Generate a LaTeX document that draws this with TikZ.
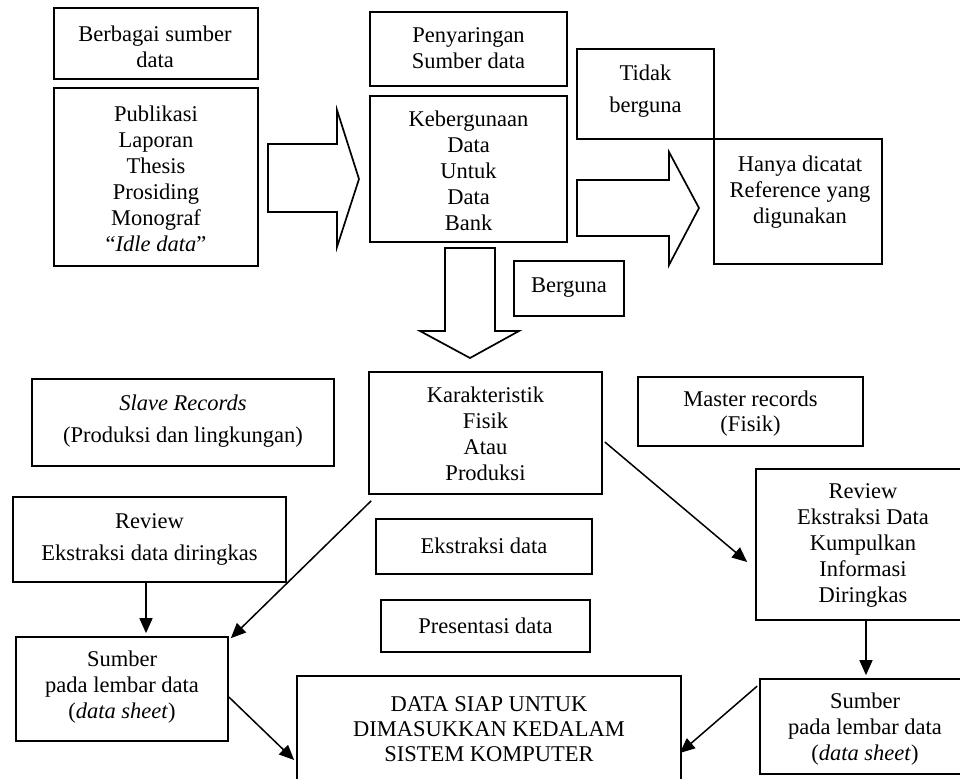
\documentclass[tikz,border=0pt]{standalone}
\usepackage{fontspec}
\setmainfont{Liberation Serif}
\usetikzlibrary{arrows.meta}
\begin{document}
\begin{tikzpicture}[x=0.5pt,y=-0.5pt,
  box/.style={draw,line width=0.85pt,inner sep=0pt,rectangle},
  txt/.style={inner sep=0pt,align=center,font=\fontsize{11.25pt}{13pt}\selectfont},
  txtw/.style={inner sep=0pt,align=center,font=\fontsize{11.25pt}{16pt}\selectfont},
  txtn/.style={inner sep=0pt,align=center,font=\fontsize{11.25pt}{12.5pt}\selectfont},
  blk/.style={draw,line width=0.85pt,line join=miter,fill=white},
  arr/.style={draw,line width=0.75pt,-{Triangle[length=7.5pt,width=6.5pt]}}]
\useasboundingbox (0,0) rectangle (960,778);
\clip (0,0) rectangle (960,778);
\fill[white] (0,0) rectangle (960,778);
% boxes
\node[box,minimum width=102pt,minimum height=35.5pt] (berbagai) at (156,43.5) {};
\node[box,minimum width=102pt,minimum height=89pt] (publikasi) at (156,177) {};
\node[box,minimum width=98.5pt,minimum height=37pt] (penyaring) at (468.5,49) {};
\node[box,minimum width=98.5pt,minimum height=73pt] (keberguna) at (468.5,169) {};
\node[box,minimum width=68.5pt,minimum height=45pt] (tidak) at (645.5,94) {};
\node[box,minimum width=84pt,minimum height=62.5pt] (hanya) at (798,201.5) {};
\node[box,minimum width=55pt,minimum height=27.5pt] (berguna) at (569,288.5) {};
\node[box,minimum width=151pt,minimum height=43.5pt] (slave) at (183,422.5) {};
\node[box,minimum width=116.5pt,minimum height=61pt] (karak) at (485.5,433) {};
\node[box,minimum width=112.5pt,minimum height=34.5pt] (master) at (750.5,411.5) {};
\node[box,minimum width=136.5pt,minimum height=42.5pt] (reviewL) at (149.5,539.5) {};
\node[box,minimum width=108pt,minimum height=27.5pt] (ekstraksi) at (484,546.5) {};
\node[box,minimum width=104.5pt,minimum height=26pt] (presentasi) at (485.5,626) {};
\node[box,minimum width=106pt,minimum height=52pt] (sumberL) at (122,689) {};
\node[box,minimum width=107pt,minimum height=75.5pt] (reviewR) at (863,544.5) {};
\node[box,minimum width=105pt,minimum height=47.5pt] (sumberR) at (865,726.5) {};
\node[box,minimum width=192pt,minimum height=54pt] (datasiap) at (489,730) {};
% texts
\node[txt] (t-berbagai) at (155,47) {Berbagai sumber\\data};
\node[txt] (t-publikasi) at (156,179) {Publikasi\\Laporan\\Thesis\\Prosiding\\Monograf\\``\textit{Idle data}''};
\node[txt] (t-penyaring) at (468.5,48) {Penyaringan\\Sumber data};
\node[txt] (t-keberguna) at (468.5,171) {Kebergunaan\\Data\\Untuk\\Data\\Bank};
\node[txtw] (t-tidak) at (645.5,91) {Tidak\\berguna};
\node[txt] (t-hanya) at (800,192) {Hanya dicatat\\Reference yang\\digunakan};
\node[txt] (t-berguna) at (569,288) {Berguna};
\node[txtw] (t-slave) at (183,421) {\textit{Slave Records}\\(Produksi dan lingkungan)};
\node[txt] (t-karak) at (485.5,434) {Karakteristik\\Fisik\\Atau\\Produksi};
\node[txtn] (t-master) at (750.5,414) {Master records\\(Fisik)};
\node[txtw] (t-reviewL) at (149.5,539) {Review\\Ekstraksi data diringkas};
\node[txt] (t-ekstraksi) at (484,546) {Ekstraksi data};
\node[txt] (t-presentasi) at (485.5,626) {Presentasi data};
\node[txt] (t-sumberL) at (122,687.5) {Sumber\\pada lembar data\\(\textit{data sheet})};
\node[txt] (t-reviewR) at (863,545) {Review\\Ekstraksi Data\\Kumpulkan\\Informasi\\Diringkas};
\node[txt] (t-sumberR) at (865,729) {Sumber\\pada lembar data\\(\textit{data sheet})};
\node[txtn] (t-datasiap) at (489,729) {DATA SIAP UNTUK\\DIMASUKKAN KEDALAM\\SISTEM KOMPUTER};
% block arrows
\draw[blk] (268,144) -- (337,144) -- (337,110) -- (359,179) -- (337,247) -- (337,212) -- (268,212) -- cycle;
\draw[blk] (577,180) -- (669,180) -- (669,152) -- (699,208) -- (669,265) -- (669,236) -- (577,236) -- cycle;
\draw[blk] (445,248) -- (495,248) -- (495,331) -- (519,331) -- (470,358) -- (420,331) -- (445,331) -- cycle;
% connectors
\draw[arr] ([shift={(-3.5,0)}]reviewL.south) -- ([shift={(24,-3)}]sumberL.north);
\draw[arr] ([shift={(3,6)}]karak.south west) -- ([shift={(2,2)}]sumberL.north east);
\draw[arr] ([shift={(0,8)}]sumberL.east) -- ([shift={(-2,30)}]datasiap.west);
\draw[arr] ([shift={(2,9)}]karak.east) -- ([shift={(-8,17.5)}]reviewR.west);
\draw[arr] ([shift={(3,0)}]reviewR.south) -- ([shift={(1,-3)}]sumberR.north);
\draw[arr] ([shift={(-2,8)}]sumberR.north west) -- ([shift={(-2,23)}]datasiap.east);
\end{tikzpicture}
\end{document}
